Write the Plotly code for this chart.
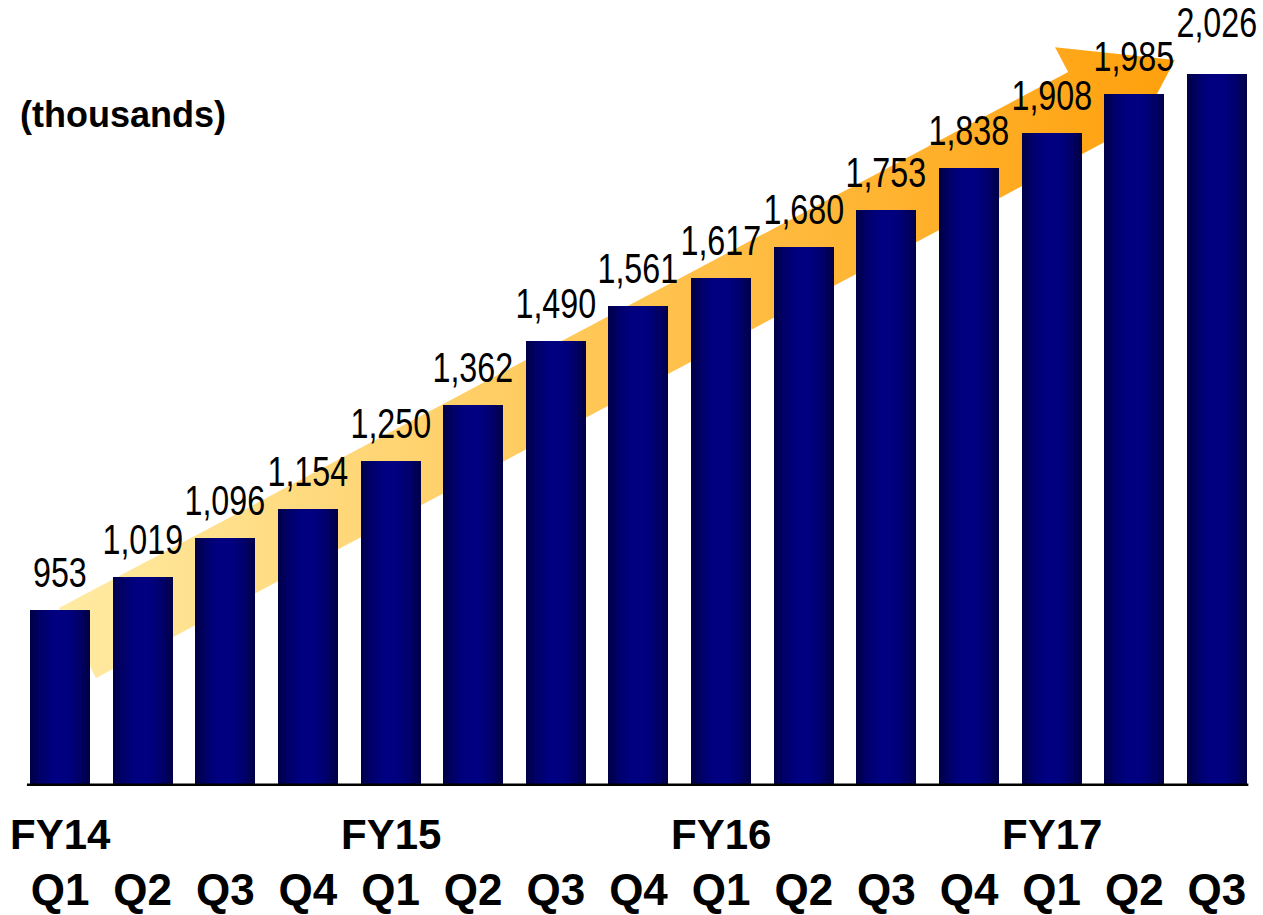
import plotly.graph_objects as go

# Quarterly totals (thousands)
quarters = ["Q1", "Q2", "Q3", "Q4", "Q1", "Q2", "Q3", "Q4",
            "Q1", "Q2", "Q3", "Q4", "Q1", "Q2", "Q3"]
fiscal_years = ["FY14", "", "", "", "FY15", "", "", "",
                "FY16", "", "", "", "FY17", "", ""]
values = [953, 1019, 1096, 1154, 1250, 1362, 1490, 1561,
          1617, 1680, 1753, 1838, 1908, 1985, 2026]

W, H = 1263, 915
BOTTOM = 129
PLOT_H = H - BOTTOM
SLOT_PX = 82.64          # horizontal pixels per category
PX_PER_UNIT = 0.4995     # vertical pixels per thousand
Y0 = 600

x_range = [-60 / SLOT_PX, (W - 60) / SLOT_PX]
y_range = [Y0, Y0 + PLOT_H / PX_PER_UNIT]
idx = list(range(len(values)))
bar_w = 60 / SLOT_PX

SANS = "Liberation Sans, Arial, sans-serif"
LABEL_SQUEEZE = 0.75     # horizontal condensing of the value labels


def px_to_data(px, py):
    x = x_range[0] + px / W * (x_range[1] - x_range[0])
    y = y_range[0] + (PLOT_H - py) / PLOT_H * (y_range[1] - y_range[0])
    return x, y


# Growth arrow behind the bars, laid out in pixel space
def arrow_polygon(tail, tip, shaft_w, head_w, head_len):
    (x0, y0), (x1, y1) = tail, tip
    dx, dy = x1 - x0, y1 - y0
    L = (dx * dx + dy * dy) ** 0.5
    ux, uy = dx / L, dy / L
    nx, ny = -uy, ux
    bx, by = x1 - ux * head_len, y1 - uy * head_len
    s, h = shaft_w / 2, head_w / 2
    pts = [
        (x0 - nx * s, y0 - ny * s),
        (bx - nx * s, by - ny * s),
        (bx - nx * h, by - ny * h),
        (x1, y1),
        (bx + nx * h, by + ny * h),
        (bx + nx * s, by + ny * s),
        (x0 + nx * s, y0 + ny * s),
    ]
    pts.append(pts[0])
    return pts


poly = arrow_polygon((77.5, 643), (1175, 60), 79, 135, 100)
ax, ay = zip(*[px_to_data(px, py) for px, py in poly])

fig = go.Figure()
# Arrow lives on the base subplot so the bar subplot overlays it
fig.add_trace(go.Scatter(
    x=list(ax), y=list(ay), mode="lines", fill="toself",
    line=dict(width=0),
    fillgradient=dict(type="horizontal",
                      colorscale=[[0, "#FFEBA3"], [0.45, "#FFC95A"], [1, "#FFA00C"]]),
    hoverinfo="skip", showlegend=False,
    xaxis="x", yaxis="y",
))

# Bars shaded as a cylinder: stacked layers, lighter toward the centre
layers = [
    (1.00, "#00004A"),
    (0.88, "#000058"),
    (0.74, "#000066"),
    (0.60, "#000071"),
    (0.44, "#00007A"),
    (0.26, "#000080"),
]
for k, (frac, col) in enumerate(layers):
    fig.add_trace(go.Bar(
        x=idx, y=[v - Y0 for v in values], base=Y0,
        width=bar_w * frac, marker=dict(color=col, line=dict(width=0)),
        hoverinfo="skip" if k else "y", showlegend=False,
        xaxis="x2", yaxis="y2",
    ))

# Value labels (annotations 0..n-1)
label_lift = {len(values) - 1: 14}
for i, v in enumerate(values):
    fig.add_annotation(
        x=i, y=v, xref="x2", yref="y2", text=f"{v:,}", showarrow=False,
        xanchor="center", yanchor="bottom", yshift=12 + label_lift.get(i, 0),
        font=dict(family=SANS, size=43, color="black"),
    )

# Fiscal-year row above the quarter ticks
for i, fy in enumerate(fiscal_years):
    if fy:
        fig.add_annotation(
            x=i, y=0, xref="x2", yref="paper", text=fy, showarrow=False,
            xanchor="center", yanchor="top", yshift=-23,
            font=dict(family=SANS, size=42, color="black", weight="bold"),
        )

fig.add_annotation(
    x=18 / W, y=1 - 92 / PLOT_H, xref="paper", yref="paper",
    text="(thousands)", showarrow=False, xanchor="left", yanchor="top",
    font=dict(family=SANS, size=36, color="black", weight="bold"),
)

# Baseline
fig.add_shape(type="line", xref="x2", yref="y2", x0=-0.4, x1=14.38, y0=Y0, y1=Y0,
              line=dict(color="black", width=5), layer="above")

axis_common = dict(showgrid=False, zeroline=False, showline=False, automargin=False)
fig.update_layout(
    width=W, height=H,
    margin=dict(l=0, r=0, t=0, b=BOTTOM),
    paper_bgcolor="white", plot_bgcolor="white",
    barmode="overlay", bargap=0,
    showlegend=False,
    xaxis=dict(range=x_range, visible=False, **axis_common),
    yaxis=dict(range=y_range, visible=False, **axis_common),
    xaxis2=dict(range=x_range, overlaying="x", anchor="y2", side="bottom",
                tickvals=idx, ticktext=quarters, ticks="",
                ticklabelstandoff=74,
                tickfont=dict(family=SANS, size=44, color="black", weight="bold"),
                **axis_common),
    yaxis2=dict(range=y_range, overlaying="y", anchor="x2", visible=False, **axis_common),
)

# Condense the value labels horizontally (narrow numeral style)
squeeze_js = """
var gd = document.getElementById('{plot_id}');
gd.querySelectorAll('g.annotation').forEach(function (g) {
  var i = parseInt(g.getAttribute('data-index'), 10);
  if (i < %d) {
    var t = g.querySelector('text');
    if (t) {
      t.style.transformBox = 'fill-box';
      t.style.transformOrigin = 'center';
      t.style.transform = 'scaleX(%s)';
    }
  }
});
""" % (len(values), LABEL_SQUEEZE)

fig.write_html("out.html", post_script=squeeze_js)
